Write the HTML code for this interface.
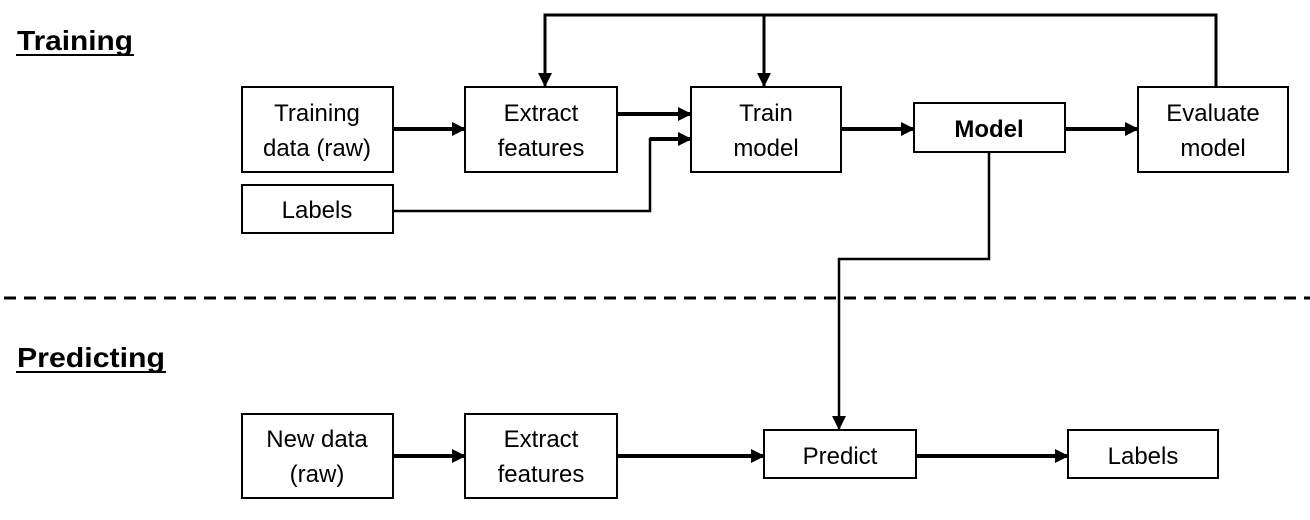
<!DOCTYPE html>
<html><head><meta charset="utf-8"><style>
html,body{margin:0;padding:0;background:#fff;}
svg{display:block;}
text{font-family:"Liberation Sans",sans-serif;fill:#000;}
</style></head><body>
<svg width="1310" height="520" viewBox="0 0 1310 520" xmlns="http://www.w3.org/2000/svg">
<defs>
<marker id="b" markerWidth="14" markerHeight="14" refX="13" refY="7" orient="auto" markerUnits="userSpaceOnUse"><path d="M0,0 L14,7 L0,14 z" fill="#000"/></marker>
</defs>
<g fill="#fff" stroke="#000" stroke-width="2">
<rect x="242" y="87" width="151" height="85"/>
<rect x="465" y="87" width="152" height="85"/>
<rect x="691" y="87" width="150" height="85"/>
<rect x="914" y="103" width="151" height="49"/>
<rect x="1138" y="87" width="150" height="85"/>
<rect x="242" y="185" width="151" height="48"/>
<rect x="242" y="414" width="151" height="84"/>
<rect x="465" y="414" width="152" height="84"/>
<rect x="764" y="430" width="152" height="48"/>
<rect x="1068" y="430" width="150" height="48"/>
</g>
<g fill="none" stroke="#000">
<path d="M1216 87 V15 H545 V86" stroke-width="3" marker-end="url(#b)"/>
<path d="M764 15 V86" stroke-width="3" marker-end="url(#b)"/>
<path d="M393 129 H465" stroke-width="4" marker-end="url(#b)"/>
<path d="M617 114 H691" stroke-width="4" marker-end="url(#b)"/>
<path d="M393 211 H650 V139 H691" stroke-width="2.5"/>
<path d="M650 139 H691" stroke-width="4" marker-end="url(#b)"/>
<path d="M841 129 H914" stroke-width="4" marker-end="url(#b)"/>
<path d="M1065 129 H1138" stroke-width="4" marker-end="url(#b)"/>
<path d="M989 152 V259 H839 V429" stroke-width="2.5" marker-end="url(#b)"/>
<path d="M393 456 H465" stroke-width="4" marker-end="url(#b)"/>
<path d="M617 456 H764" stroke-width="4" marker-end="url(#b)"/>
<path d="M916 456 H1068" stroke-width="4" marker-end="url(#b)"/>
<path d="M4 298 H1310" stroke-width="3" stroke-dasharray="12,8"/>
</g>
<g font-size="24" text-anchor="middle">
<text x="317" y="121">Training</text><text x="317" y="156">data (raw)</text>
<text x="541" y="121">Extract</text><text x="541" y="156">features</text>
<text x="766" y="121">Train</text><text x="766" y="156">model</text>
<text x="989" y="137" font-weight="bold">Model</text>
<text x="1213" y="121">Evaluate</text><text x="1213" y="156">model</text>
<text x="317" y="218">Labels</text>
<text x="317" y="447">New data</text><text x="317" y="482">(raw)</text>
<text x="541" y="447">Extract</text><text x="541" y="482">features</text>
<text x="840" y="464">Predict</text>
<text x="1143" y="464">Labels</text>
</g>
<g font-size="28" font-weight="bold">
<text x="17" y="50" textLength="116" lengthAdjust="spacingAndGlyphs">Training</text>
<text x="17" y="367" textLength="148" lengthAdjust="spacingAndGlyphs">Predicting</text>
</g>
<line x1="16" y1="55" x2="134" y2="55" stroke="#000" stroke-width="2"/>
<line x1="16" y1="372" x2="166" y2="372" stroke="#000" stroke-width="2"/>
</svg>
</body></html>
